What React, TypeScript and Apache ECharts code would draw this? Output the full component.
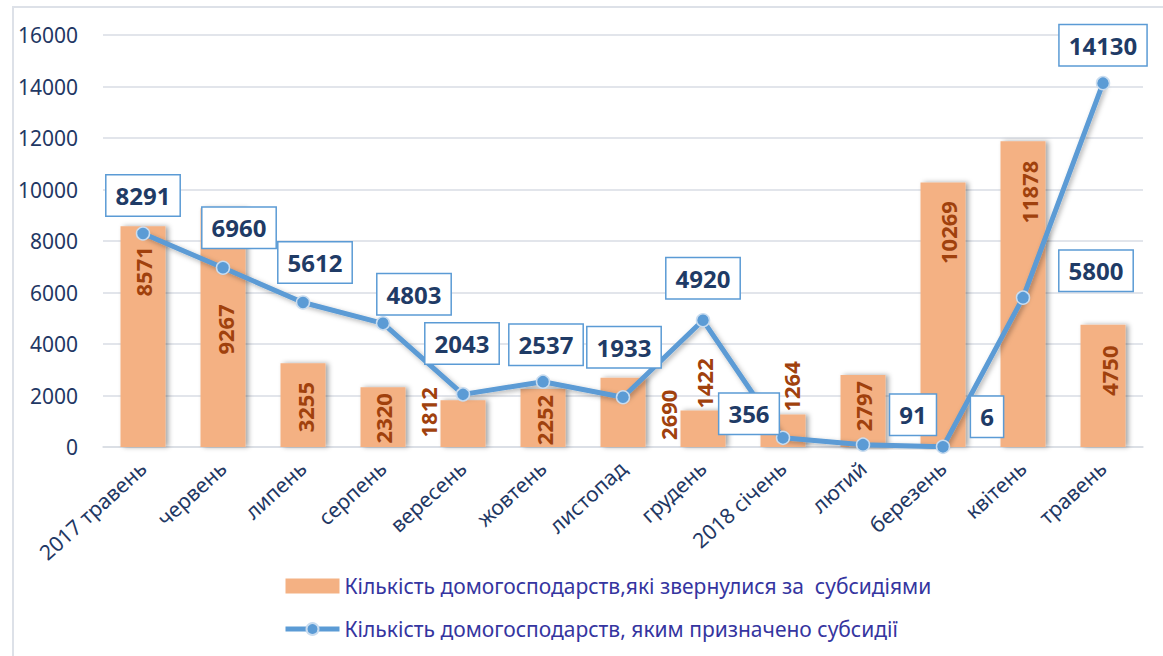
import React, { useEffect, useRef } from "react";
import * as echarts from "echarts";

// ---- data ----
const categories = [
  "2017 травень", "червень", "липень", "серпень", "вересень", "жовтень",
  "листопад", "грудень", "2018 січень", "лютий", "березень", "квітень", "травень",
];
const appliedValues = [8571, 9267, 3255, 2320, 1812, 2252, 2690, 1422, 1264, 2797, 10269, 11878, 4750];
const grantedValues = [8291, 6960, 5612, 4803, 2043, 2537, 1933, 4920, 356, 91, 6, 5800, 14130];
const yMin = 0;
const yMax = 16000;
const yInterval = 2000;
const seriesNames = [
  "Кількість домогосподарств,які звернулися за  субсидіями",
  "Кількість домогосподарств, яким призначено субсидії",
];

// ---- layout (label placement, not data) ----
const BAR_WIDTH = 45;
// [dx from bar centre, dy of label centre from bar top]
const barLabelPlacement = [
  [0, 45], [2, 121], [2, 44], [0, 31], [-35, 12], [1, 31], [45, 37],
  [1, -27], [8, -28], [0, 31], [5, 50], [6, 51], [6, 46],
];
// [dx, dy] of the box centre from the point
const lineLabelPlacement = [
  [0, -38], [16, -40], [12, -40], [31, -29], [-1, -51], [3, -37], [1, -50],
  [0, -42], [-34, -24], [50, -30], [44, -30], [73, -27], [0, -38],
];

const FONT = "'Noto Sans', 'Open Sans', sans-serif";

export default function App() {
  const ref = useRef<HTMLDivElement>(null);

  useEffect(() => {
    if (!ref.current) return;
    const chart = echarts.init(ref.current, null, { renderer: "svg" });

    const barData = appliedValues.map((v, i) => ({
      value: v,
      label: {
        position: [BAR_WIDTH / 2 + barLabelPlacement[i][0], barLabelPlacement[i][1]],
      },
    }));

    const lineData = grantedValues.map((v, i) => ({
      value: v,
      label: { offset: lineLabelPlacement[i] },
    }));

    chart.setOption({
      animation: false,
      textStyle: { fontFamily: FONT },
      graphic: [
        {
          type: "rect",
          silent: true,
          shape: { x: 13, y: 7, width: 1200, height: 700 },
          style: { fill: "none", stroke: "#dde1e8", lineWidth: 2 },
        },
      ],
      grid: {
        left: 103,
        right: 20,
        top: 35,
        bottom: 209,
        containLabel: false,
        outerBoundsMode: "none",
      },
      legend: {
        orient: "vertical",
        left: 278,
        top: 570,
        itemWidth: 54,
        itemHeight: 15,
        itemGap: 21,
        textStyle: {
          fontFamily: FONT,
          fontSize: 21,
          color: "#3535a0",
          lineHeight: 22,
        },
        data: [
          { name: seriesNames[0], icon: "rect" },
          { name: seriesNames[1], lineStyle: { width: 5, color: "#5b9bd5" } },
        ],
      },
      xAxis: {
        type: "category",
        data: categories,
        axisTick: { show: false },
        axisLine: { show: true, lineStyle: { color: "#d9dde4", width: 1.5 } },
        axisLabel: {
          interval: 0,
          rotate: 42,
          margin: 18,
          fontSize: 21,
          fontFamily: FONT,
          color: "#1f3864",
        },
      },
      yAxis: {
        type: "value",
        min: yMin,
        max: yMax,
        interval: yInterval,
        axisLine: { show: false },
        axisTick: { show: false },
        splitLine: { lineStyle: { color: "#d9dde4", width: 1.5 } },
        axisLabel: {
          margin: 25,
          fontSize: 21,
          fontFamily: FONT,
          color: "#1f3864",
          formatter: (v: number) => String(v),
        },
      },
      series: [
        {
          name: seriesNames[0],
          type: "bar",
          barWidth: BAR_WIDTH,
          data: barData,
          itemStyle: {
            color: "#f4b183",
            shadowBlur: 5,
            shadowOffsetX: 3,
            shadowOffsetY: 0,
            shadowColor: "rgba(0,0,0,0.35)",
          },
          label: {
            show: true,
            rotate: 90,
            align: "center",
            verticalAlign: "middle",
            fontSize: 22,
            fontWeight: "bold",
            fontFamily: FONT,
            color: "#a0410d",
          },
          z: 2,
        },
        {
          name: seriesNames[1],
          type: "line",
          data: lineData,
          symbol: "circle",
          symbolSize: 13,
          lineStyle: {
            color: "#5b9bd5",
            width: 5,
            shadowBlur: 5,
            shadowOffsetX: 2,
            shadowOffsetY: 2,
            shadowColor: "rgba(0,0,0,0.3)",
          },
          itemStyle: {
            color: "#5b9bd5",
            borderColor: "#c9dcef",
            borderWidth: 1.5,
          },
          label: {
            show: true,
            position: "inside",
            align: "center",
            verticalAlign: "middle",
            fontSize: 24,
            lineHeight: 24,
            fontWeight: "bold",
            fontFamily: FONT,
            color: "#1f3b66",
            backgroundColor: "#ffffff",
            borderColor: "#5b9bd5",
            borderWidth: 1.5,
            padding: [8, 9, 8, 9],
          },
          z: 5,
        },
      ],
    });

    return () => chart.dispose();
  }, []);

  return (
    <div
      ref={ref}
      style={{ position: "fixed", left: 0, top: 0, width: 1163, height: 656, background: "#fff" }}
    />
  );
}
